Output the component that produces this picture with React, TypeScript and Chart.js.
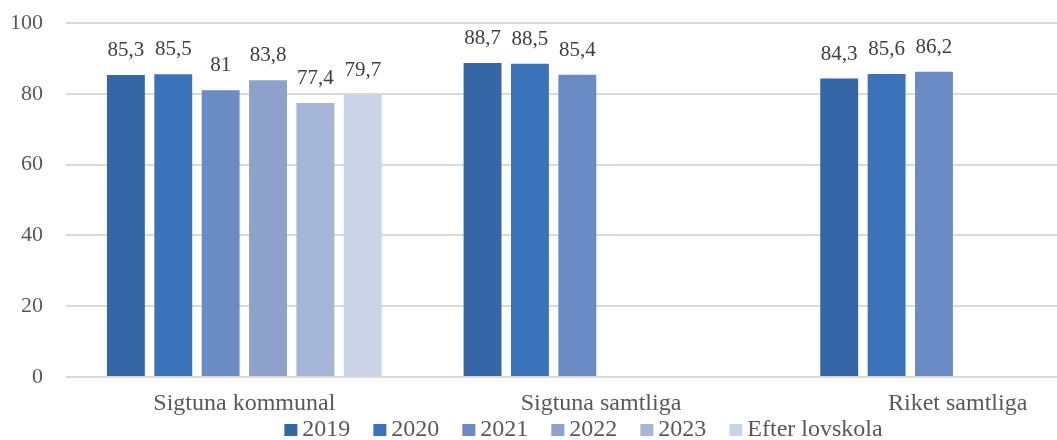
import React, { useEffect, useRef } from "react";
import { Chart, registerables } from "chart.js";

Chart.register(...registerables);

const categories = ["Sigtuna kommunal", "Sigtuna samtliga", "Riket samtliga"];
const seriesNames = ["2019", "2020", "2021", "2022", "2023", "Efter lovskola"];
const v2019 = [85.3, 88.7, 84.3];
const v2020 = [85.5, 88.5, 85.6];
const v2021 = [81, 85.4, 86.2];
const v2022 = [83.8, null, null];
const v2023 = [77.4, null, null];
const vEfter = [79.7, null, null];
const yTicks = [0, 20, 40, 60, 80, 100];

const seriesValues = [v2019, v2020, v2021, v2022, v2023, vEfter];
const colors = ["#3466a8", "#3a73ba", "#6a8bc3", "#8da1cb", "#a6b6d8", "#cbd3e6"];

const FONT = "'Liberation Serif', 'DejaVu Serif', serif";

const labelPlugin = {
  id: "barLabels",
  afterDatasetsDraw(chart: any) {
    const ctx = chart.ctx;
    ctx.save();
    ctx.font = `21px ${FONT}`;
    ctx.fillStyle = "#404040";
    ctx.textAlign = "center";
    ctx.textBaseline = "alphabetic";
    chart.data.datasets.forEach((ds: any, i: number) => {
      const meta = chart.getDatasetMeta(i);
      meta.data.forEach((bar: any, j: number) => {
        const v = ds.data[j];
        if (v === null || v === undefined) return;
        ctx.fillText(String(v).replace(".", ","), bar.x, bar.y - 19);
      });
    });
    ctx.restore();
  },
};

const legendPlugin = {
  id: "customLegend",
  afterDraw(chart: any) {
    const ctx = chart.ctx;
    ctx.save();
    ctx.font = `24px ${FONT}`;
    const boxW = 13, boxH = 12, gap = 5, spacing = 23;
    const items = chart.data.datasets.map((ds: any) => ({
      text: ds.label,
      color: ds.backgroundColor,
      w: ctx.measureText(ds.label).width,
    }));
    const total = items.reduce((s: number, it: any) => s + boxW + gap + it.w, 0) + spacing * (items.length - 1);
    let x = chart.width / 2 - total / 2;
    const yMid = 430;
    ctx.textBaseline = "middle";
    ctx.textAlign = "left";
    items.forEach((it: any) => {
      ctx.fillStyle = it.color;
      ctx.fillRect(x, yMid - boxH / 2, boxW, boxH);
      ctx.fillStyle = "#595959";
      ctx.fillText(it.text, x + boxW + gap, yMid);
      x += boxW + gap + it.w + spacing;
    });
    ctx.restore();
  },
};

export default function App() {
  const ref = useRef<HTMLCanvasElement>(null);
  useEffect(() => {
    if (!ref.current) return;
    const chart = new Chart(ref.current, {
      type: "bar",
      data: {
        labels: categories,
        datasets: seriesNames.map((name, i) => ({
          label: name,
          data: seriesValues[i],
          backgroundColor: colors[i],
          borderWidth: 0,
          categoryPercentage: 0.797,
          barPercentage: 0.8,
        })),
      },
      options: {
        responsive: false,
        animation: false,
        layout: { padding: { top: 23, left: 0, right: 31, bottom: 23 } },
        scales: {
          x: {
            grid: { display: false, drawTicks: false },
            border: { display: false },
            ticks: { font: { family: FONT, size: 24 }, color: "#595959", padding: 12 },
            afterFit: (s: any) => { s.height = 40; },
          },
          y: {
            min: 0,
            max: 100,
            afterBuildTicks: (s: any) => { s.ticks = yTicks.map((v) => ({ value: v })); },
            grid: {
              color: "#d9d9d9",
              lineWidth: 2,
              drawTicks: true,
              tickLength: 23,
              tickColor: "rgba(0,0,0,0)",
            },
            border: { display: false },
            ticks: { font: { family: FONT, size: 22 }, color: "#595959", padding: 0 },
            afterFit: (s: any) => { s.width = 66; },
          },
        },
        plugins: {
          legend: { display: false },
          tooltip: { enabled: false },
        },
      },
      plugins: [labelPlugin, legendPlugin],
    });
    return () => chart.destroy();
  }, []);
  return (
    <div style={{ position: "fixed", left: 0, top: 0, width: 1057, height: 440, overflow: "hidden", background: "#fff" }}>
      <canvas ref={ref} width={1167} height={440} style={{ display: "block" }} />
    </div>
  );
}
